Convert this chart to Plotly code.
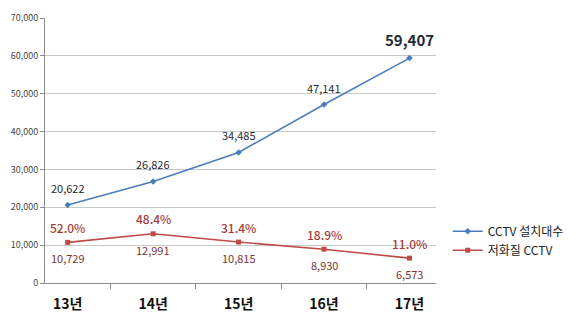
import plotly.graph_objects as go

years = ["13년", "14년", "15년", "16년", "17년"]
installed = [20622, 26826, 34485, 47141, 59407]
low_quality = [10729, 12991, 10815, 8930, 6573]
low_ratio = [52.0, 48.4, 31.4, 18.9, 11.0]
y_ticks = [0, 10000, 20000, 30000, 40000, 50000, 60000, 70000]

FONT = "Noto Sans CJK KR"
BLUE = "#4a7ebb"
RED = "#be4b48"

fig = go.Figure()
fig.add_trace(go.Scatter(
    x=years, y=installed, name="CCTV 설치대수", mode="lines+markers",
    line=dict(color=BLUE, width=1.6),
    marker=dict(symbol="diamond", size=5, color=BLUE),
))
fig.add_trace(go.Scatter(
    x=years, y=low_quality, name="저화질 CCTV", mode="lines+markers",
    line=dict(color=RED, width=1.6),
    marker=dict(symbol="square", size=5, color=RED),
))

annotations = []
for i, (yr, v) in enumerate(zip(years, installed)):
    last = i == len(years) - 1
    annotations.append(dict(
        x=yr, y=v, text=f"{v:,}", showarrow=False,
        yshift=19 if last else 17,
        font=dict(family=FONT, size=15 if last else 11, color="#1f2a36",
                  weight="bold" if last else "normal"),
    ))
for yr, v, r in zip(years, low_quality, low_ratio):
    annotations.append(dict(
        x=yr, y=v, text=f"{r:.1f}%", showarrow=False, yshift=15,
        font=dict(family=FONT, size=12, color="#a43c39", weight=500),
    ))
    annotations.append(dict(
        x=yr, y=v, text=f"{v:,}", showarrow=False, yshift=-16,
        font=dict(family=FONT, size=11, color="#7a3532"),
    ))

fig.update_layout(
    width=580, height=326,
    margin=dict(l=40, r=107, t=11, b=43),
    paper_bgcolor="white", plot_bgcolor="white",
    font=dict(family=FONT, color="#333333"),
    annotations=annotations,
    legend=dict(
        x=1.03, y=0.25, xanchor="left", yanchor="top",
        font=dict(family=FONT, size=12, color="#222222"),
        itemwidth=30, tracegroupgap=2, bgcolor="rgba(0,0,0,0)",
    ),
    xaxis=dict(
        showgrid=False, showline=True, linecolor="#8c8c8c", linewidth=1,
        ticks="outside", ticklen=5, tickcolor="#8c8c8c", tickson="boundaries",
        tickfont=dict(family=FONT, size=14, color="#111111", weight="bold"),
        ticklabelstandoff=8,
    ),
    yaxis=dict(
        range=[0, 70000], tickvals=y_ticks, tickformat=",",
        showgrid=True, gridcolor="#c8c8c8", gridwidth=1,
        showline=True, linecolor="#8c8c8c", linewidth=1,
        ticks="outside", ticklen=4, tickcolor="#8c8c8c",
        tickfont=dict(family=FONT, size=9, color="#444444"),
        zeroline=False,
    ),
)

fig.write_html("out.html")
